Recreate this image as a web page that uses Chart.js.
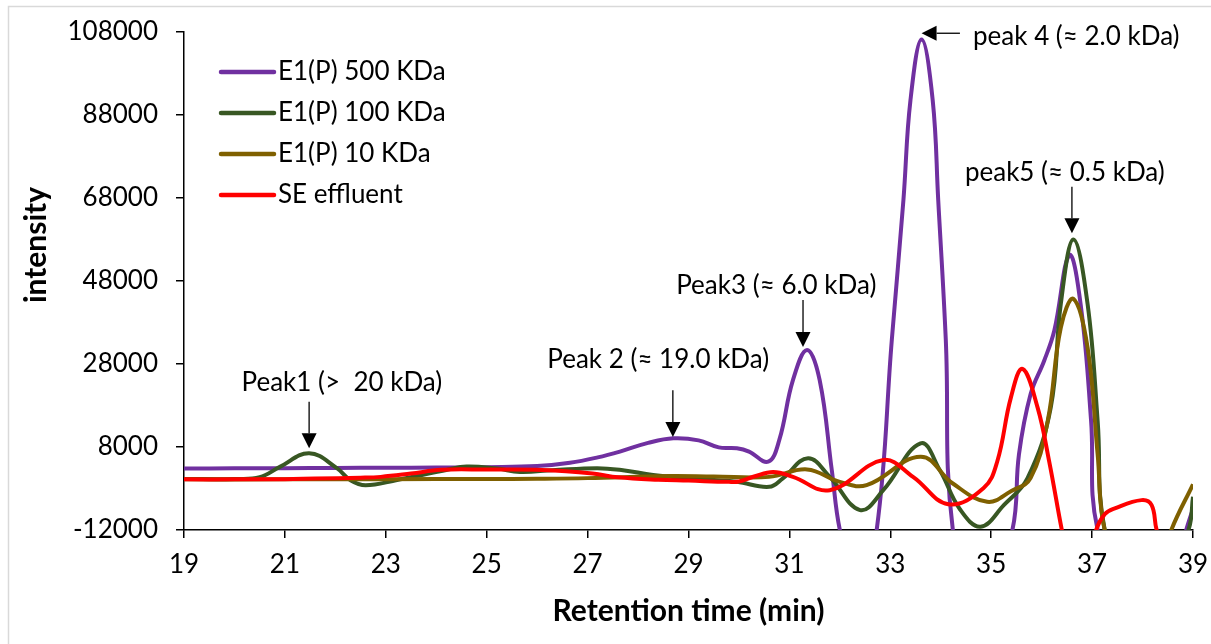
<!DOCTYPE html>
<html>
<head>
<meta charset="utf-8">
<script src="https://cdn.jsdelivr.net/npm/chart.js@4.4.1/dist/chart.umd.min.js"></script>
<style>
  html, body { margin: 0; padding: 0; background: #fff; }
  #wrap { width: 1211px; height: 644px; }
</style>
</head>
<body>
<div id="wrap"><canvas id="chart" width="1211" height="644"></canvas></div>
<script>
// retention time (min) / intensity
const e500Time = [19, 20, 21, 22, 23, 24, 25, 26, 26.65, 27.2, 27.64, 28.2, 28.7, 29.2, 29.6, 29.96, 30.2, 30.58, 30.8, 31.07, 31.35, 31.6, 31.84, 32.0, 32.35, 32.73, 33.03, 33.26, 33.4, 33.62, 33.84, 33.95, 34.1, 34.24, 34.8, 35.42, 35.55, 35.78, 36.05, 36.25, 36.55, 36.78, 36.98, 37.11, 38.0, 39];
const e500Int = [2800, 2850, 2900, 2950, 3000, 3050, 3150, 3400, 4200, 5500, 6900, 9000, 10100, 9600, 7900, 7700, 6900, 4450, 9700, 24100, 31400, 24100, 2450, -12000, -28000, -12000, 33800, 67500, 91600, 106200, 91600, 67500, 33800, -12000, -35000, -12000, 6200, 20700, 28800, 36000, 54200, 41700, 14300, -12000, -40000, -7000];

const e100Time = [19, 20, 20.5, 20.9, 21.48, 22.03, 22.3, 22.6, 23.2, 24.2, 24.6, 25.2, 25.66, 26.3, 27.19, 27.7, 28.3, 29.2, 29.96, 30.6, 30.87, 31.37, 31.8, 32.4, 32.86, 33.6, 33.98, 34.38, 34.79, 35.25, 35.72, 36.18, 36.38, 36.63, 36.91, 37.11, 37.25, 38.0, 38.91, 39];
const e100Int = [300, 300, 700, 3200, 6500, 2900, 0, -1200, 0, 2450, 3300, 2800, 2000, 2400, 2900, 2400, 1250, 300, -400, -1600, 450, 5300, 800, -7200, -2400, 8900, 2450, -7000, -11200, -6000, 500, 17500, 42500, 58000, 42500, 14300, -12000, -40000, -12000, -4000];

const e10Time = [19, 21, 23, 25, 26, 27, 28.6, 29.5, 30.6, 31.35, 32.0, 32.53, 33.6, 34.24, 34.92, 35.4, 35.78, 36.12, 36.38, 36.63, 36.91, 37.11, 37.25, 37.9, 38.57, 39];
const e10Int = [200, 200, 250, 300, 350, 500, 1000, 900, 800, 2600, -400, -1200, 5650, -800, -5200, -2600, 500, 14300, 36800, 43700, 32000, 6200, -12000, -35000, -12000, -1000];

const seTime = [19, 20, 21, 21.6, 22.5, 22.9, 23.5, 24.1, 25.0, 26.1, 27.1, 27.6, 28.4, 29.0, 29.8, 30.0, 30.3, 30.68, 31.07, 31.8, 32.86, 33.45, 34.15, 34.85, 35.12, 35.39, 35.62, 35.92, 36.15, 36.4, 36.7, 37.08, 37.25, 37.45, 37.98, 38.18, 38.28, 39];
const seInt = [200, 200, 250, 400, 600, 800, 1600, 2500, 2550, 2450, 1600, 700, 100, -100, -400, -300, 900, 2000, 800, -2400, 4850, 800, -5800, -1900, 4500, 19900, 26800, 17500, 4500, -12000, -30000, -12000, -8200, -6800, -4800, -6000, -12000, -40000];

const seriesNames = ['E1(P) 500 KDa', 'E1(P) 100 KDa', 'E1(P) 10 KDa', 'SE effluent'];
const seriesColors = ['#7030A0', '#385723', '#7F6000', '#FF0000'];

const xMin = 19, xMax = 39, xStep = 2;
const yMin = -12000, yMax = 108000, yStep = 20000;

// peak labels: text anchor and arrow (tail -> tip) in data units
const peakNotes = [
  { text: 'Peak1 (>  20 kDa)', tx: 22.13, ty: 23400, align: 'center', x1: 21.48, y1: 18900, x2: 21.48, y2: 7700 },
  { text: 'Peak 2 (\u2248 19.0 kDa)', tx: 28.40, ty: 29000, align: 'center', x1: 28.69, y1: 21700, x2: 28.69, y2: 10400 },
  { text: 'Peak3 (\u2248 6.0 kDa)', tx: 30.74, ty: 47000, align: 'center', x1: 31.27, y1: 43400, x2: 31.27, y2: 32100 },
  { text: 'peak 4 (\u2248 2.0 kDa)', tx: 34.64, ty: 106800, align: 'left', x1: 34.38, y1: 107700, x2: 33.62, y2: 107700 },
  { text: 'peak5 (\u2248 0.5 kDa)', tx: 36.46, ty: 74000, align: 'center', x1: 36.60, y1: 70700, x2: 36.60, y2: 59500 }
];

const toPoints = (t, v) => t.map((x, i) => ({ x: x, y: v[i] }));
const allTimes = [e500Time, e100Time, e10Time, seTime];
const allInts = [e500Int, e100Int, e10Int, seInt];

const FONT = 'Lato, "Open Sans", sans-serif';
Chart.defaults.font.family = FONT;
Chart.defaults.color = '#000';

const frame = {
  id: 'frame',
  beforeDraw(chart) {
    const ctx = chart.ctx;
    ctx.save();
    ctx.fillStyle = '#fff';
    ctx.fillRect(0, 0, chart.width, chart.height);
    ctx.strokeStyle = '#d9d9d9';
    ctx.lineWidth = 1.5;
    ctx.strokeRect(8.5, 6.5, 1220, 700);
    ctx.restore();
  }
};

const extras = {
  id: 'extras',
  afterDraw(chart) {
    const ctx = chart.ctx;
    const xs = chart.scales.x, ys = chart.scales.y;
    const area = chart.chartArea;
    ctx.save();

    // y axis title (sits higher than the axis centre in the original)
    ctx.save();
    ctx.translate(36, 245);
    ctx.rotate(-Math.PI / 2);
    ctx.font = 'bold 30px ' + FONT;
    ctx.fillStyle = '#000';
    ctx.textAlign = 'center';
    ctx.textBaseline = 'middle';
    ctx.fillText('intensity', 0, 0);
    ctx.restore();

    ctx.font = '26px ' + FONT;
    ctx.textBaseline = 'middle';

    // legend inside the plot
    seriesNames.forEach((name, i) => {
      const y = area.top + 40 + i * 41;
      ctx.strokeStyle = seriesColors[i];
      ctx.lineWidth = 4.5;
      ctx.lineCap = 'round';
      ctx.beginPath();
      ctx.moveTo(area.left + 37, y);
      ctx.lineTo(area.left + 90, y);
      ctx.stroke();
      ctx.fillStyle = '#000';
      ctx.textAlign = 'left';
      ctx.fillText(name, area.left + 94, y);
    });

    // peak annotations
    ctx.lineCap = 'butt';
    peakNotes.forEach(n => {
      ctx.fillStyle = '#000';
      ctx.textAlign = n.align;
      ctx.fillText(n.text, xs.getPixelForValue(n.tx), ys.getPixelForValue(n.ty));
      const ax = xs.getPixelForValue(n.x1), ay = ys.getPixelForValue(n.y1);
      const bx = xs.getPixelForValue(n.x2), by = ys.getPixelForValue(n.y2);
      const ang = Math.atan2(by - ay, bx - ax);
      const head = 15, half = 7.5;
      const hx = bx - head * Math.cos(ang), hy = by - head * Math.sin(ang);
      ctx.strokeStyle = '#000';
      ctx.lineWidth = 1.3;
      ctx.beginPath();
      ctx.moveTo(ax, ay);
      ctx.lineTo(hx, hy);
      ctx.stroke();
      ctx.beginPath();
      ctx.moveTo(bx, by);
      ctx.lineTo(hx + half * Math.sin(ang), hy - half * Math.cos(ang));
      ctx.lineTo(hx - half * Math.sin(ang), hy + half * Math.cos(ang));
      ctx.closePath();
      ctx.fill();
    });
    ctx.restore();
  }
};

new Chart(document.getElementById('chart'), {
  type: 'line',
  data: {
    datasets: seriesNames.map((name, i) => ({
      label: name,
      data: toPoints(allTimes[i], allInts[i]),
      borderColor: seriesColors[i],
      backgroundColor: seriesColors[i],
      borderWidth: 4,
      pointRadius: 0,
      tension: 0.4,
      fill: false,
      order: seriesNames.length - i,
      clip: { left: 0, top: 6, right: 0, bottom: 0 }
    }))
  },
  options: {
    responsive: false,
    animation: false,
    events: [],
    layout: { padding: { top: 32, right: 18, left: 0, bottom: 0 } },
    plugins: { legend: { display: false }, tooltip: { enabled: false } },
    scales: {
      x: {
        type: 'linear',
        min: xMin,
        max: xMax,
        afterFit: s => { s.height = 114; s.paddingLeft = 0; s.paddingRight = 0; },
        ticks: { stepSize: xStep, padding: 11, font: { size: 26 }, maxRotation: 0 },
        grid: { drawOnChartArea: false, drawTicks: true, tickLength: 8, color: '#000', lineWidth: 1.5 },
        border: { display: true, color: '#000', width: 1.5 },
        title: { display: true, text: 'Retention time (min)', font: { size: 30, weight: 'bold' }, padding: { top: 0, bottom: 15 } }
      },
      y: {
        type: 'linear',
        min: yMin,
        max: yMax,
        afterFit: s => { s.width = 184; s.paddingTop = 0; s.paddingBottom = 0; },
        ticks: { stepSize: yStep, padding: 18, font: { size: 26 }, callback: v => String(v) },
        grid: { drawOnChartArea: false, drawTicks: true, tickLength: 8, color: '#000', lineWidth: 1.5 },
        border: { display: true, color: '#000', width: 1.5 },
        title: { display: false }
      }
    }
  },
  plugins: [frame, extras]
});
</script>
</body>
</html>
